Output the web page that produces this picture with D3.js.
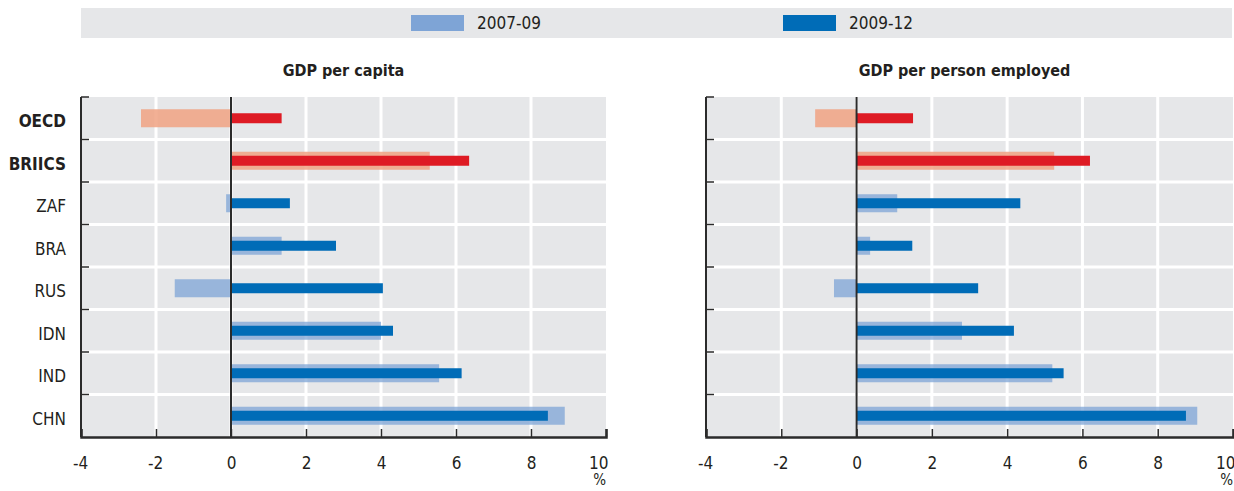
<!DOCTYPE html>
<html>
<head>
<meta charset="utf-8">
<script src="https://cdn.jsdelivr.net/npm/d3@7"></script>
<style>
  body { margin: 0; background: #fff; }
  svg text { font-family: "Liberation Sans Narrow", "DejaVu Sans Condensed", "Arial Narrow", sans-serif; fill: #231f20; }
</style>
</head>
<body>
<svg id="chart" width="1234" height="491"></svg>
<script>
const svg = d3.select('#chart')

const categories = ['OECD', 'BRIICS', 'ZAF', 'BRA', 'RUS', 'IDN', 'IND', 'CHN']
const boldCats = ['OECD', 'BRIICS']
const seriesNames = ['2007-09', '2009-12']
const panelTitles = ['GDP per capita', 'GDP per person employed']
const xTicks = [-4, -2, 0, 2, 4, 6, 8, 10]

// GDP per capita growth, %
const capita0709 = [-2.4, 5.3, -0.13, 1.35, -1.5, 4.0, 5.55, 8.9]
const capita0912 = [1.35, 6.35, 1.57, 2.8, 4.05, 4.32, 6.15, 8.45]
// GDP per person employed growth, %
const employed0709 = [-1.1, 5.25, 1.08, 0.36, -0.6, 2.8, 5.2, 9.05]
const employed0912 = [1.5, 6.2, 4.35, 1.48, 3.23, 4.18, 5.5, 8.75]

const bg = '#e6e7e9'
const lightBlue = '#7ea4d6'
const darkBlue = '#006cb7'
const lightRed = '#f0a283'
const darkRed = '#de1b24'
const axisColor = '#2b2b2b'

// legend band
svg.append('rect').attr('x', 81).attr('y', 8).attr('width', 1151).attr('height', 30).attr('fill', bg)
const legendX = [411, 783]
seriesNames.forEach((s, i) => {
	svg.append('rect')
		.attr('x', legendX[i]).attr('y', 15).attr('width', 53).attr('height', 16)
		.attr('fill', i === 0 ? lightBlue : darkBlue)
	svg.append('text')
		.attr('x', legendX[i] + 66).attr('y', 29)
		.style('font-size', '17px')
		.text(s)
})

const panels = [
	{ left: 81, right: 606, title: panelTitles[0], light: capita0709, dark: capita0912 },
	{ left: 706, right: 1233, title: panelTitles[1], light: employed0709, dark: employed0912 }
]
const plotTop = 97
const plotBottom = 437

const yScale = d3.scaleBand()
	.domain(categories)
	.range([plotTop, plotBottom])

panels.forEach((p, pi) => {
	const xScale = d3.scaleLinear()
		.domain([xTicks[0], xTicks[xTicks.length - 1]])
		.range([p.left, p.right])
	const g = svg.append('g')

	// title
	g.append('text')
		.attr('x', (p.left + p.right) / 2 + (pi === 0 ? 0 : -5))
		.attr('y', 76)
		.attr('text-anchor', 'middle')
		.style('font-size', '16px')
		.style('font-weight', 'bold')
		.text(p.title)

	// background
	g.append('rect')
		.attr('x', p.left).attr('y', plotTop)
		.attr('width', p.right - p.left).attr('height', plotBottom - plotTop)
		.attr('fill', bg)

	// white grid
	g.selectAll('.vgrid')
		.data(xTicks.slice(1, -1))
		.enter()
		.append('line')
		.attr('x1', d => xScale(d)).attr('x2', d => xScale(d))
		.attr('y1', plotTop).attr('y2', plotBottom)
		.attr('stroke', '#fff').attr('stroke-width', 3)
	g.selectAll('.hgrid')
		.data(categories.slice(1))
		.enter()
		.append('line')
		.attr('x1', p.left).attr('x2', p.right)
		.attr('y1', d => yScale(d)).attr('y2', d => yScale(d))
		.attr('stroke', '#fff').attr('stroke-width', 3)

	// bars
	const bh = yScale.bandwidth()
	g.selectAll('.light')
		.data(categories)
		.enter()
		.append('rect')
		.attr('x', (d, i) => xScale(Math.min(0, p.light[i])))
		.attr('width', (d, i) => Math.abs(xScale(p.light[i]) - xScale(0)))
		.attr('y', d => yScale(d) + bh / 2 - 9)
		.attr('height', 18)
		.attr('fill', d => boldCats.includes(d) ? lightRed : lightBlue)
		.attr('fill-opacity', d => boldCats.includes(d) ? 0.85 : 0.75)
	g.selectAll('.dark')
		.data(categories)
		.enter()
		.append('rect')
		.attr('x', (d, i) => xScale(Math.min(0, p.dark[i])))
		.attr('width', (d, i) => Math.abs(xScale(p.dark[i]) - xScale(0)))
		.attr('y', d => yScale(d) + bh / 2 - 5)
		.attr('height', 10)
		.attr('fill', d => boldCats.includes(d) ? darkRed : darkBlue)

	// zero line
	g.append('line')
		.attr('x1', xScale(0)).attr('x2', xScale(0))
		.attr('y1', plotTop).attr('y2', plotBottom)
		.attr('stroke', axisColor).attr('stroke-width', 2)

	// left axis with inner ticks at row boundaries
	g.append('line')
		.attr('x1', p.left).attr('x2', p.left)
		.attr('y1', plotTop).attr('y2', plotBottom)
		.attr('stroke', axisColor).attr('stroke-width', 2)
	g.selectAll('.ytick')
		.data(categories)
		.enter()
		.append('line')
		.attr('x1', p.left).attr('x2', p.left + 8)
		.attr('y1', d => yScale(d)).attr('y2', d => yScale(d))
		.attr('stroke', axisColor).attr('stroke-width', 1.5)

	// bottom axis
	const xAxis = d3.axisBottom(xScale)
		.tickValues(xTicks)
		.tickSize(-8)
		.tickPadding(20)
		.tickFormat(d => String(d))
	const ax = g.append('g')
		.attr('transform', `translate(0, ${plotBottom})`)
		.call(xAxis)
	ax.select('path.domain')
		.attr('stroke', axisColor).attr('stroke-width', 2.5)
	ax.selectAll('.tick line')
		.attr('stroke', axisColor).attr('stroke-width', 1.5)
	ax.selectAll('.tick text')
		.style('font-size', '17px')
		.style('font-family', '"Liberation Sans Narrow", "DejaVu Sans Condensed", sans-serif')
		.attr('fill', '#231f20')
		.attr('text-anchor', d => d === 10 ? 'end' : 'middle')
		.attr('dx', d => d === 10 ? 2 : (d < 0 ? -1 : 0))
	g.append('text')
		.attr('x', p.right).attr('y', 485)
		.attr('text-anchor', 'end')
		.style('font-size', '15px')
		.text('%')

	// category labels (left panel only)
	if (pi === 0) {
		g.selectAll('.cat')
			.data(categories)
			.enter()
			.append('text')
			.attr('x', 66)
			.attr('y', d => yScale(d) + bh / 2 + 9)
			.attr('text-anchor', 'end')
			.style('font-size', '17px')
			.style('font-weight', d => boldCats.includes(d) ? 'bold' : 'normal')
			.text(d => d)
	}
})
</script>
</body>
</html>
